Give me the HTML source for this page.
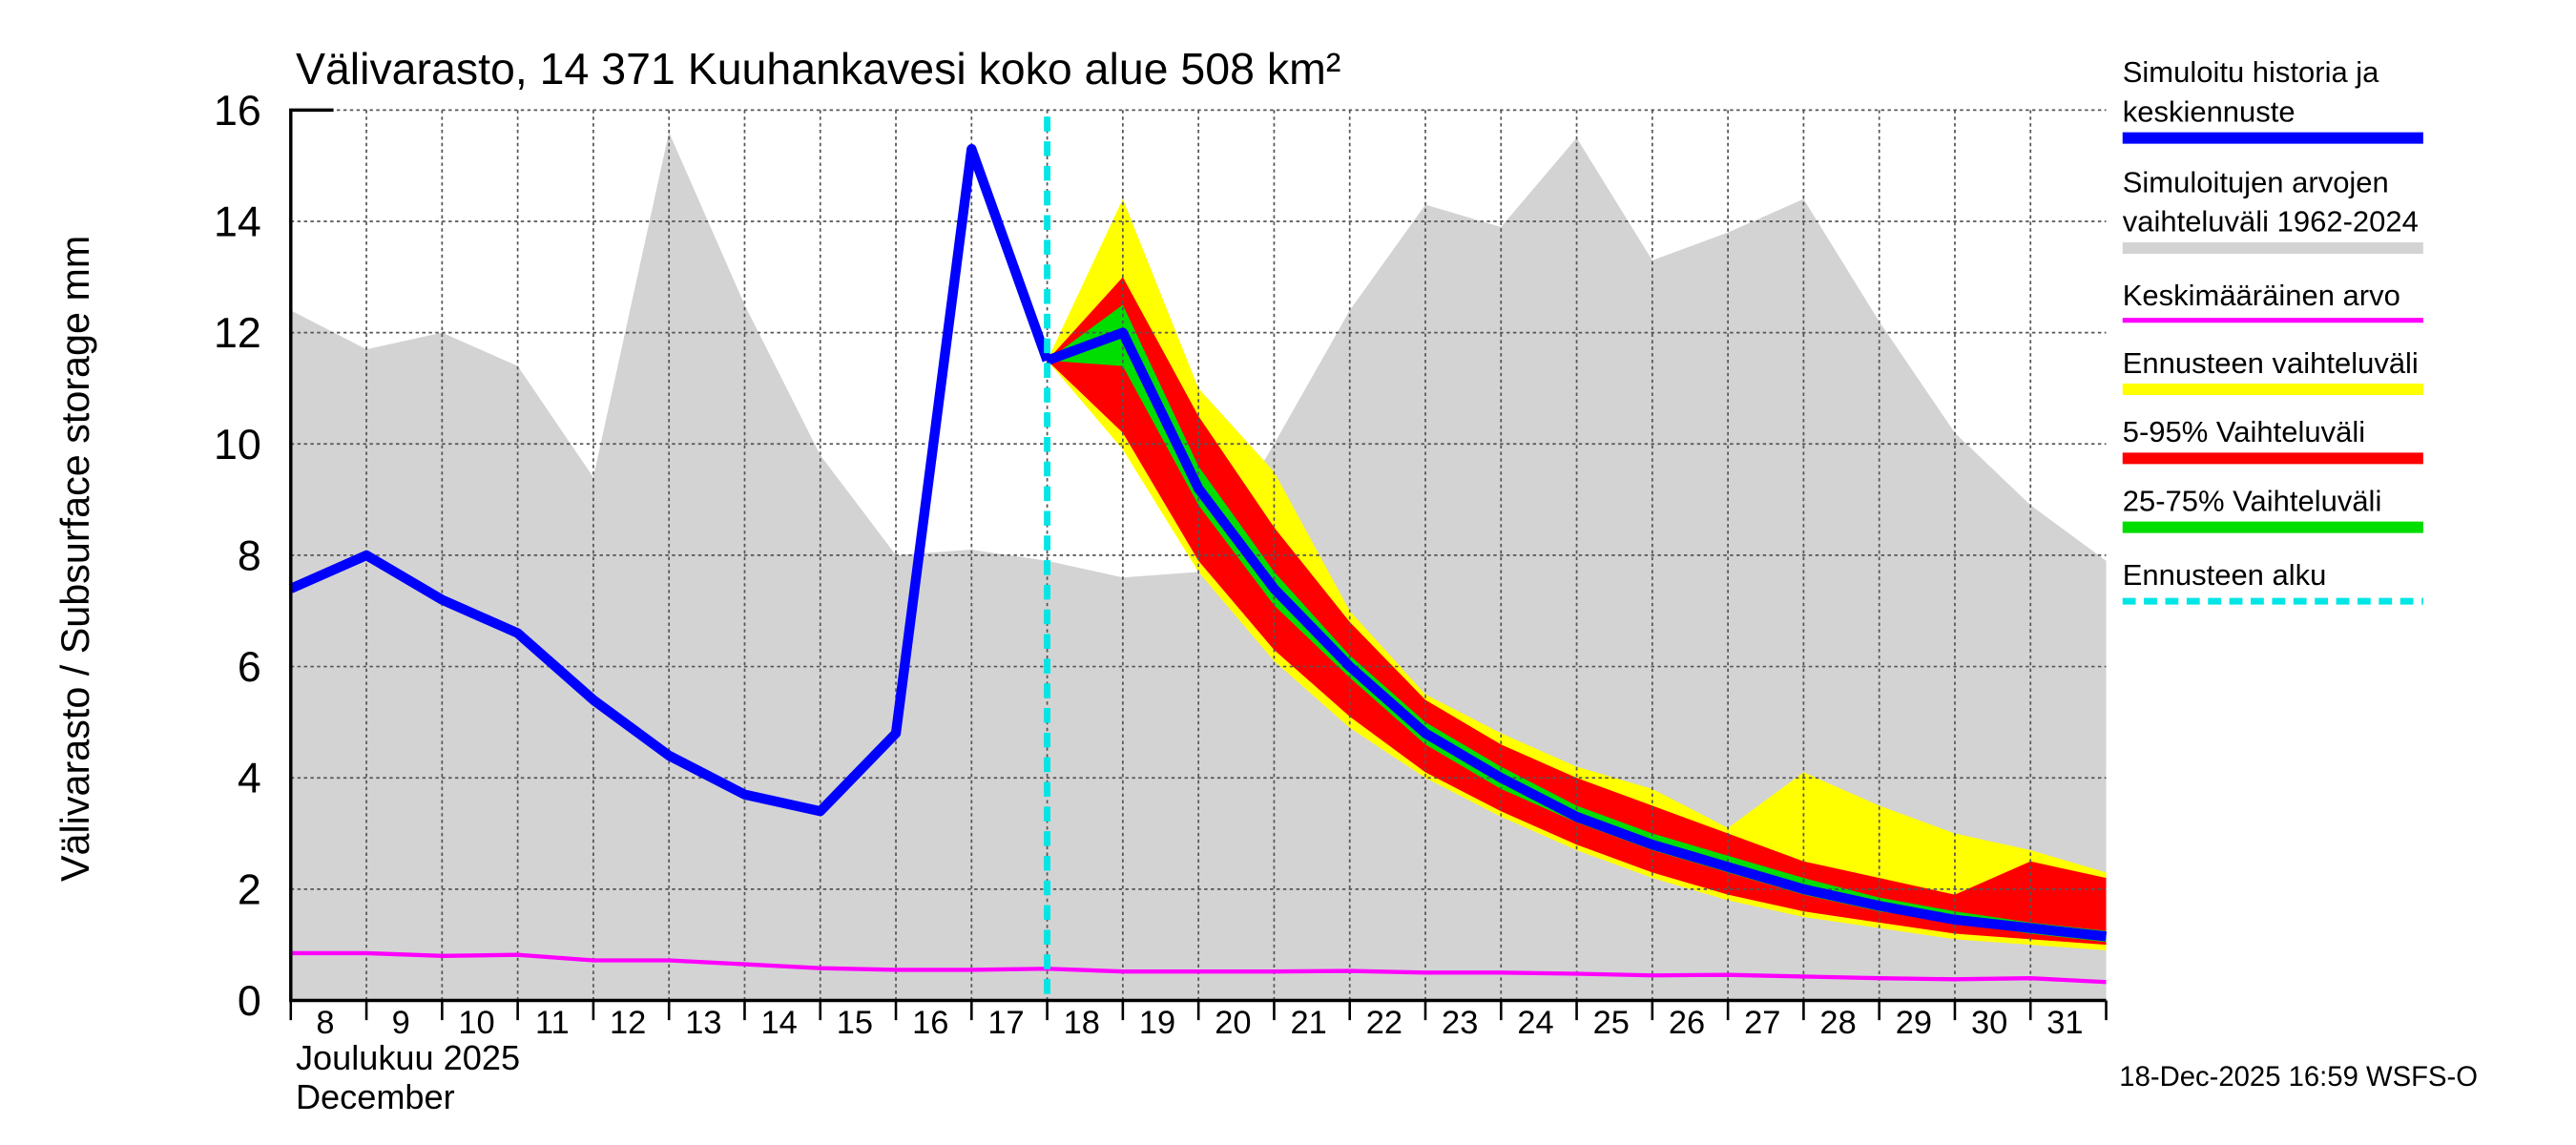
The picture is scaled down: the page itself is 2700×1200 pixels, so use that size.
<!DOCTYPE html>
<html><head><meta charset="utf-8"><style>
html,body{margin:0;padding:0;background:#fff}
svg{display:block;font-family:"Liberation Sans",sans-serif}
</style></head><body>
<svg id="chart" width="2700" height="1200" viewBox="0 0 1568 697" preserveAspectRatio="none" xmlns="http://www.w3.org/2000/svg">
<rect width="1568" height="697" fill="#fff"/>
<g id="bands"></g>
<g id="grid"></g>
<g id="lines"></g>
<g id="axes"></g>
<text x="180" y="51" font-size="27">Välivarasto, 14 371 Kuuhankavesi koko alue 508 km²</text>
<text transform="translate(54,340) rotate(-90)" text-anchor="middle" font-size="24">Välivarasto / Subsurface storage  mm</text>
<text x="180" y="651" font-size="21">Joulukuu  2025</text>
<text x="180" y="675" font-size="21">December</text>
<text x="1290" y="661" font-size="17">18-Dec-2025 16:59 WSFS-O</text>
<g font-size="18">
<text x="1292" y="50">Simuloitu historia ja</text><text x="1292" y="74">keskiennuste</text>
<line x1="1292" y1="84" x2="1475" y2="84" stroke="#0000ff" stroke-width="7"/>
<text x="1292" y="117">Simuloitujen arvojen</text><text x="1292" y="141">vaihteluväli 1962-2024</text>
<line x1="1292" y1="151" x2="1475" y2="151" stroke="#d3d3d3" stroke-width="7"/>
<text x="1292" y="186">Keskimääräinen arvo</text>
<line x1="1292" y1="195" x2="1475" y2="195" stroke="#ff00ff" stroke-width="3"/>
<text x="1292" y="227">Ennusteen vaihteluväli</text>
<line x1="1292" y1="237" x2="1475" y2="237" stroke="#ffff00" stroke-width="7"/>
<text x="1292" y="269">5-95% Vaihteluväli</text>
<line x1="1292" y1="279" x2="1475" y2="279" stroke="#ff0000" stroke-width="7"/>
<text x="1292" y="311">25-75% Vaihteluväli</text>
<line x1="1292" y1="321" x2="1475" y2="321" stroke="#00dd00" stroke-width="7"/>
<text x="1292" y="356">Ennusteen alku</text>
<line x1="1292" y1="366" x2="1475" y2="366" stroke="#00e5e5" stroke-width="4" stroke-dasharray="8,5"/>
</g>
</svg>
<script>
const dayLabels=[8,9,10,11,12,13,14,15,16,17,18,19,20,21,22,23,24,25,26,27,28,29,30,31];
const yTicks=[0,2,4,6,8,10,12,14,16];
const history=[7.4,8.0,7.2,6.6,5.4,4.4,3.7,3.4,4.8,15.3,11.5];
const forecastMedian=[11.5,12.0,9.2,7.4,6.0,4.8,4.0,3.3,2.8,2.4,2.0,1.7,1.45,1.3,1.15];
const histMax=[12.4,11.7,12.0,11.4,9.4,15.6,12.5,9.8,8.0,8.1,7.9,7.6,7.7,10.0,12.4,14.3,13.9,15.5,13.3,13.8,14.4,12.2,10.2,8.9,7.9];
const histMin=[0,0,0,0,0,0,0,0,0,0,0,0,0,0,0,0,0,0,0,0,0,0,0,0,0];
const meanVals=[0.85,0.85,0.8,0.82,0.72,0.72,0.65,0.58,0.55,0.55,0.57,0.52,0.52,0.52,0.53,0.5,0.5,0.48,0.45,0.46,0.43,0.4,0.38,0.4,0.33];
const yelMax=[11.5,14.4,11.0,9.5,7.0,5.5,4.8,4.2,3.8,3.1,4.1,3.5,3.0,2.7,2.3];
const yelMin=[11.5,9.9,7.7,6.1,4.9,4.0,3.3,2.7,2.2,1.8,1.5,1.3,1.1,1.0,0.9];
const redMax=[11.5,13.0,10.5,8.5,6.8,5.4,4.6,4.0,3.5,3.0,2.5,2.2,1.9,2.5,2.2];
const redMin=[11.5,10.2,7.9,6.3,5.1,4.1,3.4,2.8,2.3,1.9,1.6,1.4,1.2,1.1,1.0];
const grnMax=[11.5,12.5,9.6,7.7,6.2,5.0,4.2,3.5,3.0,2.6,2.2,1.85,1.6,1.4,1.25];
const grnMin=[11.5,11.4,8.9,7.1,5.8,4.6,3.8,3.2,2.7,2.3,1.9,1.6,1.4,1.2,1.05];
const forecastStart=10;
const X0=177,X1=1282,Y0=609,Y1=67,NS="http://www.w3.org/2000/svg";
const x=i=>X0+(X1-X0)*i/24;
const y=v=>Y0-(Y0-Y1)*v/16;
function mk(tag,attrs,parent){const e=document.createElementNS(NS,tag);for(const k in attrs)e.setAttribute(k,attrs[k]);document.getElementById(parent).appendChild(e);return e;}
function band(maxA,minA,off,fill,name){
  let p=maxA.map((v,i)=>x(i+off)+","+y(v));
  for(let i=minA.length-1;i>=0;i--)p.push(x(i+off)+","+y(minA[i]));
  const e=mk("polygon",{points:p.join(" "),fill:fill},"bands");
  
  
}
function line(arr,off,stroke,w,name,parent){
  const e=mk("polyline",{points:arr.map((v,i)=>x(i+off)+","+y(v)).join(" "),fill:"none",stroke:stroke,"stroke-width":w,"stroke-linejoin":"round"},parent||"lines");
  
  
}
band(histMax,histMin,0,"#d3d3d3","historical-range");
band(yelMax,yelMin,forecastStart,"#ffff00","forecast-range");
band(redMax,redMin,forecastStart,"#ff0000","band-5-95");
band(grnMax,grnMin,forecastStart,"#00dd00","band-25-75");
for(let i=1;i<24;i++){const e=mk("line",{x1:x(i),x2:x(i),y1:Y1,y2:Y0,stroke:"#555","stroke-width":1,"stroke-dasharray":"2,2"},"grid");

}
yTicks.forEach(t=>{if(t>0){const e=mk("line",{x1:X0,x2:X1,y1:y(t),y2:y(t),stroke:"#555","stroke-width":1,"stroke-dasharray":"2,2"},"grid");

}
const tx=mk("text",{x:X0-18,y:y(t)+9,"text-anchor":"end","font-size":"26"},"axes");tx.textContent=t;

});
line(meanVals,0,"#ff00ff",2.5,"mean-line");
line(history,0,"#0000ff",6,"history-line");
line(forecastMedian,forecastStart,"#0000ff",6,"forecast-median-line");
const fs=mk("line",{x1:x(forecastStart),x2:x(forecastStart),y1:Y1+4,y2:Y0,stroke:"#00e5e5","stroke-width":4,"stroke-dasharray":"9,6"},"lines");


const ax=mk("polyline",{points:`${X0+26},${Y1} ${X0},${Y1} ${X0},${Y0} ${X1},${Y0}`,fill:"none",stroke:"#000","stroke-width":2},"axes");


for(let i=0;i<=24;i++){const e=mk("line",{x1:x(i),x2:x(i),y1:Y0,y2:Y0+12,stroke:"#000","stroke-width":1.5},"axes");

}
dayLabels.forEach((d,i)=>{const t=mk("text",{x:x(i+0.5)-2,y:Y0+20,"text-anchor":"middle","font-size":"20"},"axes");t.textContent=d;

});
</script>
</body></html>
